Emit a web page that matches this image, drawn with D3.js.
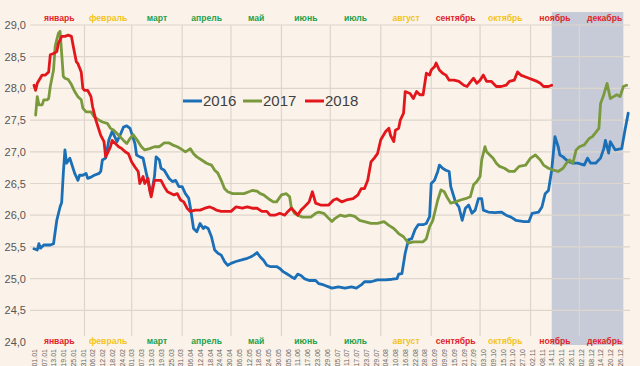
<!DOCTYPE html>
<html><head><meta charset="utf-8">
<script src="https://cdn.jsdelivr.net/npm/d3@7"></script>
<style>
html,body{margin:0;padding:0;background:#fbf3ea;}
svg{display:block;font-family:"Liberation Sans",Arial,sans-serif;}
</style></head>
<body>
<svg id="chart" width="640" height="366"></svg>
<script>
// ---- data ----
const seriesNames = ["2016","2017","2018"];
const yTicks = [24,24.5,25,25.5,26,26.5,27,27.5,28,28.5,29];
const dateLabels = ["01.01","07.01","13.01","19.01","25.01","31.01","06.02","12.02","18.02","24.02","01.03","07.03","13.03","19.03","25.03","31.03","06.04","12.04","18.04","24.04","30.04","06.05","12.05","18.05","24.05","30.05","05.06","11.06","17.06","23.06","29.06","05.07","11.07","17.07","23.07","29.07","04.08","10.08","16.08","22.08","28.08","03.09","09.09","15.09","21.09","27.09","03.10","09.10","15.10","21.10","27.10","02.11","08.11","14.11","20.11","26.11","02.12","08.12","14.12","20.12","26.12"];
const monthNames = ["январь","февраль","март","апрель","май","июнь","июль","август","сентябрь","октябрь","ноябрь","декабрь"];
const shadeFrom = "14.11", shadeTo = "28.12";
// [day of year (0 = 01.01), value]
const s2016 = [[0,25.47],[2,25.45],[3,25.55],[4,25.48],[6,25.53],[10,25.53],[12,25.55],[14,25.92],[16,26.13],[17,26.2],[18,26.66],[19,27.03],[20,26.82],[22,26.9],[23,26.82],[25,26.66],[27,26.55],[28,26.63],[30,26.63],[32,26.66],[33,26.58],[35,26.6],[37,26.63],[40,26.66],[41,26.69],[42,26.87],[44,26.9],[46,27.19],[48,27.32],[49,27.27],[51,27.16],[53,27.27],[55,27.39],[57,27.41],[59,27.37],[60,27.29],[62,27.13],[63,26.95],[65,26.92],[67,26.9],[69,26.66],[70,26.55],[72,26.32],[74,26.61],[75,26.92],[77,26.87],[78,26.74],[80,26.71],[83,26.58],[85,26.53],[87,26.55],[89,26.45],[91,26.45],[93,26.34],[95,26.27],[96,26.13],[98,25.79],[100,25.74],[102,25.87],[104,25.79],[105,25.82],[107,25.79],[109,25.66],[111,25.45],[113,25.4],[115,25.37],[117,25.27],[119,25.21],[121,25.24],[124,25.27],[127,25.29],[131,25.32],[133,25.34],[135,25.37],[137,25.41],[139,25.34],[141,25.29],[143,25.21],[145,25.19],[149,25.19],[151,25.16],[153,25.11],[155,25.08],[158,25.03],[160,25.0],[162,25.07],[164,25.05],[166,25.0],[169,24.97],[173,24.97],[175,24.92],[178,24.9],[181,24.87],[183,24.85],[187,24.87],[191,24.85],[195,24.87],[198,24.85],[201,24.9],[203,24.95],[207,24.95],[211,24.98],[216,24.98],[220,24.99],[223,25.0],[224,25.07],[226,25.08],[228,25.4],[230,25.61],[232,25.63],[234,25.77],[236,25.85],[239,25.85],[241,25.87],[243,25.98],[244,26.5],[246,26.55],[248,26.69],[249,26.79],[251,26.74],[253,26.71],[255,26.69],[256,26.45],[259,26.2],[261,26.13],[263,25.92],[265,26.11],[267,26.16],[269,26.03],[271,26.08],[273,26.26],[275,26.26],[276,26.08],[279,26.05],[283,26.04],[287,26.05],[290,26.0],[293,25.97],[296,25.92],[301,25.9],[304,25.9],[306,26.03],[310,26.05],[312,26.13],[314,26.34],[316,26.39],[318,26.71],[319,26.98],[320,27.24],[322,27.08],[323,26.95],[325,26.92],[327,26.87],[329,26.84],[331,26.82],[334,26.82],[338,26.79],[340,26.9],[342,26.82],[345,26.82],[348,26.9],[350,27.05],[351,27.18],[353,26.98],[354,27.16],[357,27.03],[361,27.05],[363,27.34],[365,27.61]];
const s2017 = [[1,27.58],[2,27.87],[3,27.74],[5,27.74],[6,27.82],[8,27.82],[9,27.84],[10,28.03],[12,28.29],[13,28.66],[14,28.77],[15,28.87],[16,28.9],[17,28.55],[18,28.19],[19,28.16],[21,28.14],[23,28.06],[25,27.95],[27,27.87],[29,27.82],[30,27.69],[32,27.63],[35,27.63],[37,27.55],[40,27.5],[42,27.47],[45,27.45],[47,27.37],[49,27.34],[52,27.26],[55,27.18],[57,27.13],[59,27.21],[61,27.27],[64,27.16],[66,27.08],[68,27.03],[71,27.05],[74,27.08],[77,27.08],[80,27.14],[83,27.14],[85,27.11],[88,27.08],[90,27.05],[93,27.0],[95,27.03],[96,27.05],[98,26.97],[100,26.92],[103,26.87],[106,26.82],[109,26.79],[111,26.71],[113,26.66],[115,26.55],[117,26.42],[119,26.37],[122,26.34],[126,26.34],[129,26.34],[132,26.37],[134,26.39],[137,26.38],[139,26.34],[141,26.32],[144,26.26],[147,26.21],[149,26.21],[152,26.32],[155,26.34],[157,26.29],[158,26.13],[160,26.03],[162,26.0],[165,25.97],[170,25.97],[173,26.03],[175,26.05],[178,26.03],[181,25.95],[183,25.9],[185,25.95],[188,26.0],[191,25.98],[194,26.0],[197,25.98],[200,25.92],[203,25.9],[207,25.87],[211,25.87],[215,25.9],[218,25.84],[221,25.79],[224,25.71],[227,25.66],[230,25.56],[233,25.58],[236,25.58],[239,25.58],[241,25.63],[243,25.82],[245,25.92],[248,26.24],[250,26.4],[252,26.37],[254,26.27],[256,26.19],[259,26.21],[262,26.24],[265,26.26],[268,26.29],[270,26.48],[272,26.53],[274,26.61],[275,26.87],[277,27.08],[278,27.0],[280,26.95],[282,26.9],[284,26.82],[286,26.77],[289,26.74],[292,26.69],[295,26.69],[298,26.77],[302,26.79],[305,26.9],[308,26.95],[311,26.87],[313,26.79],[316,26.74],[319,26.71],[322,26.69],[325,26.74],[327,26.82],[329,26.87],[331,26.82],[333,27.03],[335,27.08],[338,27.11],[341,27.21],[343,27.24],[347,27.37],[348,27.76],[350,27.9],[352,28.08],[354,27.84],[356,27.87],[358,27.9],[360,27.87],[362,28.03],[364,28.05]];
const s2018 = [[0,28.05],[1,27.97],[2,28.08],[5,28.21],[7,28.21],[9,28.26],[10,28.53],[12,28.55],[14,28.58],[15,28.71],[17,28.82],[19,28.82],[21,28.84],[23,28.82],[24,28.68],[26,28.42],[27,28.39],[29,28.26],[30,28.0],[31,27.97],[33,27.97],[35,27.87],[36,27.71],[38,27.5],[40,27.34],[41,27.26],[43,27.16],[44,26.92],[45,26.97],[47,27.08],[48,27.18],[50,27.13],[52,27.08],[54,27.05],[56,27.0],[58,26.97],[60,26.84],[62,26.76],[64,26.69],[65,26.5],[67,26.61],[68,26.5],[70,26.58],[71,26.4],[72,26.29],[74,26.55],[75,26.55],[78,26.55],[80,26.45],[82,26.37],[86,26.32],[88,26.34],[90,26.24],[92,26.21],[94,26.11],[96,26.06],[99,26.08],[102,26.08],[105,26.11],[108,26.13],[110,26.11],[112,26.08],[115,26.06],[118,26.06],[121,26.06],[124,26.13],[128,26.11],[131,26.13],[134,26.11],[137,26.11],[140,26.06],[143,26.06],[145,26.0],[148,26.0],[151,26.03],[154,26.0],[156,26.06],[158,26.11],[160,26.06],[162,26.0],[164,26.08],[166,26.13],[169,26.21],[171,26.37],[173,26.19],[176,26.16],[179,26.16],[181,26.16],[184,26.24],[186,26.26],[189,26.21],[192,26.24],[196,26.26],[199,26.32],[201,26.42],[203,26.42],[205,26.55],[207,26.84],[209,26.9],[211,26.97],[213,27.19],[216,27.32],[218,27.37],[219,27.26],[221,27.16],[222,27.34],[224,27.37],[225,27.5],[227,27.61],[228,27.95],[231,27.92],[233,27.84],[235,27.95],[237,27.9],[239,27.9],[241,28.24],[243,28.21],[244,28.29],[246,28.34],[247,28.4],[249,28.29],[251,28.24],[253,28.21],[255,28.13],[258,28.13],[261,28.11],[264,28.05],[266,28.03],[268,28.1],[270,28.16],[272,28.08],[274,28.13],[276,28.21],[278,28.11],[281,28.11],[284,28.03],[287,28.03],[290,28.05],[292,28.11],[295,28.13],[297,28.26],[299,28.21],[302,28.18],[304,28.16],[307,28.13],[309,28.11],[311,28.08],[313,28.03],[316,28.03],[318,28.05]];
const seriesData = [s2016, s2017, s2018];

// ---- styles ----
const seriesColors = ["#1b6fb7","#7a993d","#e3161b"];
const monthColor = {red:"#e0232b", gold:"#f3c41c", green:"#25a04a"};
const monthColorKeys = ["red","gold","green","green","green","green","green","gold","red","gold","red","red"];

const svg = d3.select("#chart");
const t0 = new Date(Date.UTC(2016,0,1));
const dayDate = d => d3.utcDay.offset(t0, d);
const parseLbl = s => d3.utcParse("%d.%m.%Y")(s + ".2016");
const x = d3.scaleUtc().domain([t0, new Date(Date.UTC(2017,0,1))]).range([34, 34 + 366*1.628]);
const y = d3.scaleLinear().domain([24,29]).range([342,25]);

// shaded band
svg.append("rect")
  .attr("x", x(parseLbl(shadeFrom))).attr("y", 12)
  .attr("width", x(parseLbl(shadeTo)) - x(parseLbl(shadeFrom))).attr("height", 333)
  .attr("fill", "#c7cbd7");

// horizontal gridlines
svg.append("g").selectAll("line").data(yTicks.filter(v => v > 24)).join("line")
  .attr("x1", 30).attr("x2", 630)
  .attr("y1", d => y(d)).attr("y2", d => y(d))
  .attr("stroke", "#ddd6cc").attr("stroke-width", 1.2);

// vertical gridlines at month boundaries
const monthStarts = d3.utcMonth.range(d3.utcMonth.offset(t0,1), new Date(Date.UTC(2017,0,1)));
svg.append("g").selectAll("line").data(monthStarts).join("line")
  .attr("x1", d => x(d)).attr("x2", d => x(d))
  .attr("y1", 25).attr("y2", 336)
  .attr("stroke", "#ddd6cc").attr("stroke-width", 1.2);

// y axis labels
const yAxis = d3.axisLeft(y).tickValues(yTicks).tickSize(0).tickPadding(0)
  .tickFormat(d => d3.format(".1f")(d).replace(".", ","));
const gy = svg.append("g").attr("transform", "translate(26,0)").call(yAxis);
gy.select(".domain").remove();
gy.selectAll("text").attr("font-size", 11).attr("fill", "#555").attr("font-family", "'Liberation Sans',Arial,sans-serif");

// x axis date labels
const xAxis = d3.axisBottom(x).tickValues(dateLabels.map(parseLbl)).tickSize(0)
  .tickFormat(d3.utcFormat("%d.%m"));
const gx = svg.append("g").attr("transform", "translate(0,349)").call(xAxis);
gx.select(".domain").remove();
gx.selectAll("text")
  .attr("transform", "rotate(-90)")
  .attr("text-anchor", "end").attr("dy", "0.32em").attr("x", 0).attr("y", 0)
  .attr("font-size", 7).attr("fill", "#666").attr("font-family", "'Liberation Sans',Arial,sans-serif");

// month labels top & bottom
const months = monthNames.map((n, i) => {
  const a = new Date(Date.UTC(2016, i, 1)), b = new Date(Date.UTC(2016, i + 1, 1));
  return {name: n, mid: new Date((+a + +b) / 2), color: monthColor[monthColorKeys[i]]};
});
[21, 344].forEach(yy => {
  svg.append("g").selectAll("text").data(months).join("text")
    .attr("x", d => x(d.mid)).attr("y", yy)
    .attr("text-anchor", "middle").attr("font-size", 8.6).attr("font-weight", "bold")
    .attr("fill", d => d.color).text(d => d.name);
});

// lines
const line = d3.line().x(d => x(dayDate(d[0]))).y(d => y(d[1]));
svg.append("g").selectAll("path").data(seriesData).join("path")
  .attr("d", line).attr("fill", "none")
  .attr("stroke", (d, i) => seriesColors[i]).attr("stroke-width", 2.8)
  .attr("stroke-linejoin", "round").attr("stroke-linecap", "round");

// legend
const legX = [183, 243, 305];
const lg = svg.append("g").selectAll("g").data(seriesNames).join("g")
  .attr("transform", (d, i) => `translate(${legX[i]},101)`);
lg.append("line").attr("x1", 0).attr("x2", 19).attr("y1", 0).attr("y2", 0)
  .attr("stroke", (d, i) => seriesColors[i]).attr("stroke-width", 3);
lg.append("text").attr("x", 20).attr("y", 0).attr("dy", "0.36em")
  .attr("font-size", 15).attr("fill", "#404040").text(d => d);
</script>
</body></html>
